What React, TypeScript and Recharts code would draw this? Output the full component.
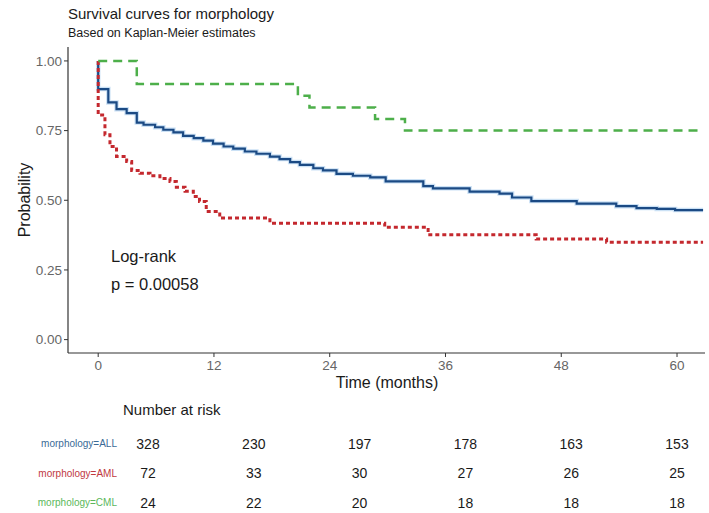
import { LineChart, Line, XAxis, YAxis } from 'recharts';

// Kaplan-Meier step estimates
const allTime = [0, 0, 1.05, 1.9, 2.95, 4.0, 4.7, 5.9, 6.75, 7.8, 8.8, 9.9, 10.9, 11.9, 13.0, 14.0, 15.2, 16.4, 17.8, 18.8, 19.9, 20.9, 22.3, 23.3, 24.7, 26.4, 28.2, 29.8, 33.7, 34.7, 38.5, 41.6, 42.9, 44.9, 49.6, 53.7, 55.8, 57.9, 59.8, 62.7];
const allSurv = [1, 0.899, 0.851, 0.827, 0.813, 0.779, 0.771, 0.762, 0.753, 0.744, 0.731, 0.723, 0.714, 0.703, 0.693, 0.685, 0.675, 0.667, 0.657, 0.648, 0.637, 0.627, 0.615, 0.607, 0.595, 0.588, 0.582, 0.568, 0.551, 0.543, 0.531, 0.524, 0.51, 0.497, 0.488, 0.479, 0.472, 0.469, 0.465, 0.465];

const amlTime = [0, 0, 0.7, 1.22, 1.9, 2.95, 3.47, 4.33, 5.37, 6.4, 7.44, 8.1, 9.0, 9.86, 10.5, 11.2, 12.6, 17.8, 29.7, 34.2, 45.4, 52.7, 62.7];
const amlSurv = [1, 0.806, 0.735, 0.693, 0.657, 0.639, 0.607, 0.597, 0.588, 0.578, 0.567, 0.547, 0.532, 0.514, 0.496, 0.46, 0.436, 0.418, 0.403, 0.376, 0.361, 0.349, 0.349];

const cmlTime = [0, 4.0, 20.7, 21.9, 28.7, 31.8, 62.7];
const cmlSurv = [1, 0.917, 0.875, 0.833, 0.792, 0.75, 0.75];

const timeTicks = [0, 12, 24, 36, 48, 60];
const probTicks = [0, 0.25, 0.5, 0.75, 1];

const groupNames = ['morphology=ALL', 'morphology=AML', 'morphology=CML'];
const riskAll = [328, 230, 197, 178, 163, 153];
const riskAml = [72, 33, 30, 27, 26, 25];
const riskCml = [24, 22, 20, 18, 18, 18];

const toPoints = (t: number[], s: number[]) => t.map((v, i) => ({ t: v, s: s[i] }));

const BLUE = '#1b4a84';
const RED = '#c4282e';
const GREEN = '#4daf4a';
const FONT = '"Liberation Sans", Arial, sans-serif';

export default function App() {
  const riskRows = [riskAll, riskAml, riskCml];
  const rowColors = ['#3a6a96', '#c0393f', '#5cb85c'];
  // risk table columns run from 148px (month 0) to 677px (month 60)
  const colX = (t: number) => 148 + (t * 529) / 60;

  return (
    <div style={{ position: 'relative', width: 709, height: 513, background: '#fff', fontFamily: FONT }}>
      <style>{'body{margin:0}'}</style>
      <div style={{ position: 'absolute', left: 0, top: 0 }}>
        <LineChart width={709} height={400} margin={{ top: 47, right: 4, left: 0, bottom: 17 }}>
          <XAxis
            type="number"
            dataKey="t"
            domain={[-3.13, 62.9]}
            ticks={timeTicks}
            allowDataOverflow
            height={30}
            tickSize={4}
            tickMargin={3}
            axisLine={{ stroke: '#333', strokeWidth: 1.2 }}
            tickLine={{ stroke: '#333' }}
            tick={{ fill: '#666', fontSize: 13.5, fontFamily: FONT }}
          />
          <YAxis
            type="number"
            domain={[-0.048, 1.05]}
            ticks={probTicks}
            allowDataOverflow
            width={68}
            tickSize={4}
            tickMargin={2}
            tickFormatter={(v: number) => v.toFixed(2)}
            axisLine={{ stroke: '#333', strokeWidth: 1.2 }}
            tickLine={{ stroke: '#333' }}
            tick={{ fill: '#666', fontSize: 13.5, fontFamily: FONT }}
          />
          <Line data={toPoints(allTime, allSurv)} dataKey="s" type="stepAfter" stroke="#a9cdee" strokeWidth={4.5} strokeOpacity={0.6} dot={false} isAnimationActive={false} />
          <Line data={toPoints(allTime, allSurv)} dataKey="s" type="stepAfter" stroke={BLUE} strokeWidth={2.2} dot={false} isAnimationActive={false} />
          <Line data={toPoints(amlTime, amlSurv)} dataKey="s" type="stepAfter" stroke={RED} strokeWidth={3} strokeDasharray="4 3" dot={false} isAnimationActive={false} />
          <Line data={toPoints(cmlTime, cmlSurv)} dataKey="s" type="stepAfter" stroke={GREEN} strokeWidth={2.5} strokeDasharray="9 6" dot={false} isAnimationActive={false} />
        </LineChart>
      </div>
      <svg width={709} height={513} style={{ position: 'absolute', left: 0, top: 0, pointerEvents: 'none' }} fontFamily={FONT}>
        <text x={68} y={19} fontSize={15} fill="#1a1a1a">Survival curves for morphology</text>
        <text x={68} y={37} fontSize={12.5} fill="#1a1a1a">Based on Kaplan-Meier estimates</text>
        <text x={30} y={200} fontSize={16} fill="#1a1a1a" textAnchor="middle" transform="rotate(-90 30 200)">Probability</text>
        <text x={387} y={388} fontSize={16} fill="#1a1a1a" textAnchor="middle">Time (months)</text>
        <text x={111} y={262} fontSize={16.5} fill="#1a1a1a">Log-rank</text>
        <text x={111} y={290} fontSize={16.5} fill="#1a1a1a">p = 0.00058</text>
        <text x={123} y={415} fontSize={15} fill="#1a1a1a">Number at risk</text>
        {riskRows.map((row, r) => (
          <g key={groupNames[r]}>
            <text x={117} y={447 + r * 29.5} fontSize={10} fill={rowColors[r]} textAnchor="end">{groupNames[r]}</text>
            {row.map((n, i) => (
              <text key={i} x={colX(timeTicks[i])} y={448.5 + r * 29.5} fontSize={14} fill="#1a1a1a" textAnchor="middle">{n}</text>
            ))}
          </g>
        ))}
      </svg>
    </div>
  );
}
